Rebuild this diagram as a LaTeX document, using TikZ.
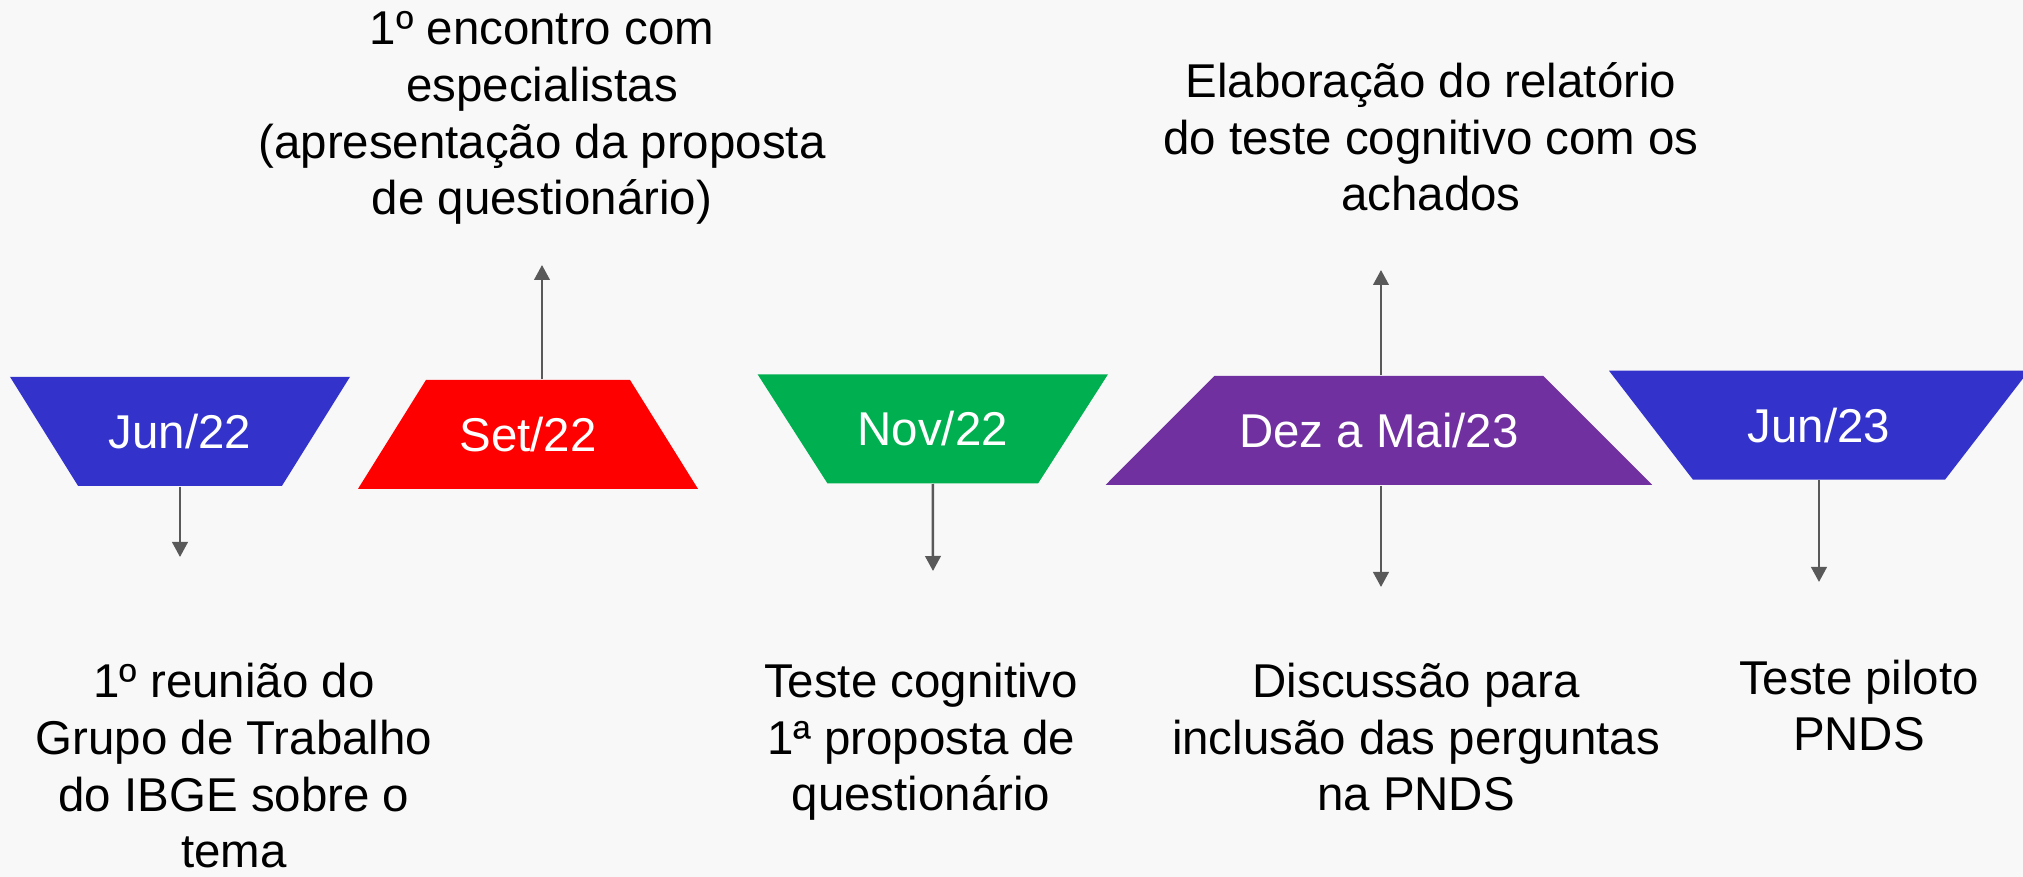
\documentclass[tikz,border=0pt]{standalone}
\usepackage{fontspec}
\setmainfont{Liberation Sans}
\usetikzlibrary{arrows.meta}
\definecolor{fundo}{HTML}{F8F8F8}
\definecolor{azul}{HTML}{3333CC}
\definecolor{vermelho}{HTML}{FF0000}
\definecolor{verde}{HTML}{00B050}
\definecolor{roxo}{HTML}{7030A0}
\definecolor{cinza}{HTML}{595959}
\tikzset{
	data/.style={minimum height=10.9mm, inner sep=0pt, text=white, font=\fontsize{13.5}{16.2}\selectfont},
	nota/.style={align=center, anchor=base, inner sep=0pt, font=\fontsize{13.5}{16.2}\selectfont},
	seta/.style={draw=cinza, line width=0.25mm, -{Triangle[length=1.5mm,width=1.55mm]}}
}
\begin{document}
\begin{tikzpicture}[x=0.1mm,y=-0.1mm]
			\fill[fundo] (0,0) rectangle (2023,877);
			\useasboundingbox (0,0) rectangle (2023,877);
			% trapezios das datas: centro, meia largura em cima e em baixo
			\foreach \nome/\x/\y/\t/\b/\cor/\txt in {
				jun22/180/431.3/170/102/azul/{Jun/22},
				set22/528/434.4/102/170/vermelho/{Set/22},
				nov22/932.8/428.8/175.2/105.4/verde/{Nov/22},
				dez23/1378.9/430.3/164.3/273.2/roxo/{Dez a Mai/23},
				jun23/1819/425.2/210/126/azul/{Jun/23}} {
				\fill[\cor] (\x-\t,\y-54.5) -- (\x+\t,\y-54.5) -- (\x+\b,\y+54.5) -- (\x-\b,\y+54.5) -- cycle;
				\node[data] (\nome) at (\x,\y) {\txt};
			}
			% pontas das setas
			\coordinate (jun22p) at (180,557);
			\coordinate (set22p) at (542,265);
			\coordinate (nov22p) at (933,571);
			\coordinate (dez23a) at (1381,270);
			\coordinate (dez23b) at (1381,587);
			\coordinate (jun23p) at (1819,582);
			\draw[seta] (jun22.south) -- (jun22p);
			\draw[seta] (set22.north -| set22p) -- (set22p);
			\draw[seta] (nov22.south) -- (nov22p);
			\draw[seta] (dez23.north -| dez23a) -- (dez23a);
			\draw[seta] (dez23.south -| dez23b) -- (dez23b);
			\draw[seta] (jun23.south) -- (jun23p);
			% textos (base = ultima linha)
			\node[nota] (set22txt) at (542,215) {1º encontro com\\especialistas\\(apresentação da proposta\\de questionário)};
			\node[nota] (dez23txt) at (1431,211) {Elaboração do relatório\\do teste cognitivo com os\\achados};
			\node[nota] (jun22txt) at (234,868) {1º reunião do\\Grupo de Trabalho\\do IBGE sobre o\\tema};
			\node[nota] (nov22txt) at (921,811) {Teste cognitivo\\1ª proposta de\\questionário};
			\node[nota] (dez23txt2) at (1416,811) {Discussão para\\inclusão das perguntas\\na PNDS};
			\node[nota] (jun23txt) at (1859,751) {Teste piloto\\PNDS};
\end{tikzpicture}
\end{document}
